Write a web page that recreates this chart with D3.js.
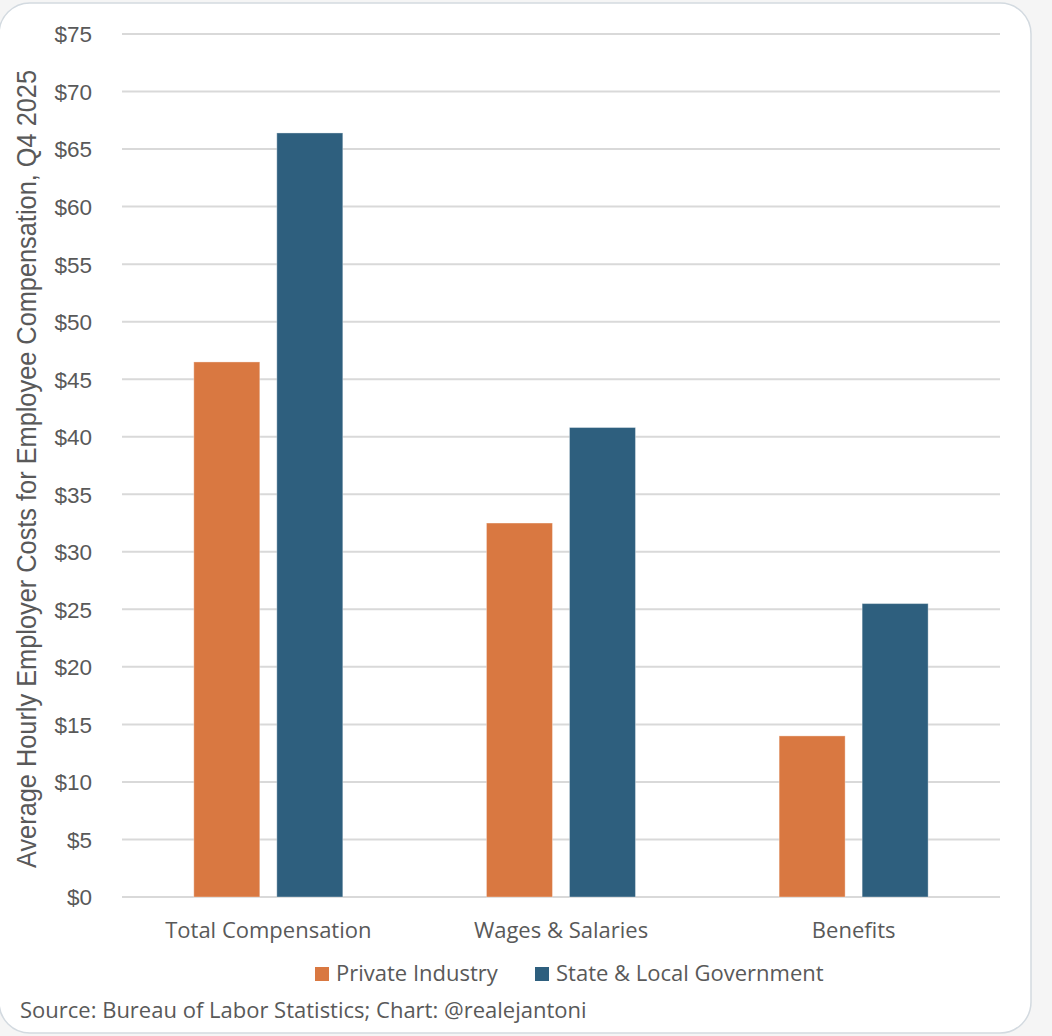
<!DOCTYPE html>
<html>
<head>
<meta charset="utf-8">
<script src="https://cdn.jsdelivr.net/npm/d3@7"></script>
<style>
  body { margin: 0; background: #f5f5f5; }
  svg { display: block; }
</style>
</head>
<body>
<div class="chart"></div>
<script>
// values, $ per hour
var categories = ["Total Compensation", "Wages & Salaries", "Benefits"];
var seriesNames = ["Private Industry", "State & Local Government"];
var privateIndustry = [46.5, 32.5, 14.0];
var stateLocal = [66.4, 40.8, 25.5];
var yTicks = [0, 5, 10, 15, 20, 25, 30, 35, 40, 45, 50, 55, 60, 65, 70, 75];
var colors = ["#d97841", "#2e5f7e"];

var W = 1052, H = 1036;
var labelFont = "'Open Sans', 'Noto Sans', sans-serif";
var labelSize = 22;

var svg = d3.select(".chart").append("svg")
    .attr("width", W)
    .attr("height", H);

// card
svg.append("rect")
    .attr("x", -1).attr("y", 3)
    .attr("width", 1032).attr("height", 1030)
    .attr("rx", 31).attr("ry", 31)
    .attr("fill", "#fff")
    .attr("stroke", "#d3dae0")
    .attr("stroke-width", 1.5);

var y = d3.scaleLinear().domain([0, 75]).range([897, 34]);
var x0 = d3.scaleBand().domain(categories).range([122, 1000]);
var x1 = d3.scaleBand().domain(seriesNames)
    .range([71.8, 220.8]).paddingInner(0.205);

// gridlines
svg.append("g")
  .selectAll("line")
  .data(yTicks)
  .enter()
  .append("line")
    .attr("x1", 122).attr("x2", 1000)
    .attr("y1", function(d) { return y(d); })
    .attr("y2", function(d) { return y(d); })
    .attr("stroke", "#d9d9d9")
    .attr("stroke-width", 2);

// y axis labels
var yAxis = d3.axisLeft(y)
    .tickValues(yTicks)
    .tickSize(0)
    .tickPadding(0)
    .tickFormat(function(d) { return "$" + d; });

var ya = svg.append("g")
    .attr("transform", "translate(92,0)")
    .call(yAxis);
ya.select(".domain").remove();
ya.selectAll("text")
    .attr("fill", "#595959")
    .attr("font-family", "'Liberation Sans', Arial, sans-serif")
    .attr("font-size", 22.5)
    .attr("dy", "0.35em");

// bars
var data = categories.map(function(c, i) {
  return { cat: c, vals: [privateIndustry[i], stateLocal[i]] };
});

svg.append("g")
  .selectAll("g")
  .data(data)
  .enter()
  .append("g")
    .attr("transform", function(d) { return "translate(" + x0(d.cat) + ",0)"; })
  .selectAll("rect")
    .data(function(d) { return d.vals; })
    .enter()
    .append("rect")
      .attr("x", function(d, i) { return x1(seriesNames[i]); })
      .attr("y", function(d) { return y(d); })
      .attr("width", x1.bandwidth())
      .attr("height", function(d) { return y(0) - y(d); })
      .attr("fill", function(d, i) { return colors[i]; })
      .attr("stroke", "rgba(255,255,255,0.35)")
      .attr("stroke-width", 1);

// x category labels
var xAxis = d3.axisBottom(x0).tickSize(0).tickPadding(0);
var xa = svg.append("g")
    .attr("transform", "translate(0,938)")
    .call(xAxis);
xa.select(".domain").remove();
xa.selectAll("text")
    .attr("dy", 0)
    .attr("fill", "#595959")
    .attr("font-family", labelFont)
    .attr("font-size", labelSize);

// y title, condensed face squeezed to the reference length
svg.append("text")
    .attr("transform", "translate(36,469) rotate(-90)")
    .attr("text-anchor", "middle")
    .attr("fill", "#595959")
    .attr("font-family", "'Liberation Sans Narrow', 'Liberation Sans', Arial, sans-serif")
    .attr("font-size", 27)
    .attr("textLength", 798)
    .attr("lengthAdjust", "spacingAndGlyphs")
    .text("Average Hourly Employer Costs for Employee Compensation, Q4 2025");

// legend
var legendX = [315, 535];
var leg = svg.append("g")
  .selectAll("g")
  .data(seriesNames)
  .enter()
  .append("g")
    .attr("transform", function(d, i) { return "translate(" + legendX[i] + ",0)"; });
leg.append("rect")
    .attr("y", 967).attr("width", 14).attr("height", 14)
    .attr("fill", function(d, i) { return colors[i]; });
leg.append("text")
    .attr("x", 21).attr("y", 981)
    .attr("fill", "#595959")
    .attr("font-family", labelFont)
    .attr("font-size", labelSize)
    .text(function(d) { return d; });

// source
svg.append("text")
    .attr("x", 20).attr("y", 1018)
    .attr("fill", "#595959")
    .attr("font-family", labelFont)
    .attr("font-size", labelSize)
    .text("Source: Bureau of Labor Statistics; Chart: @realejantoni");
</script>
</body>
</html>
